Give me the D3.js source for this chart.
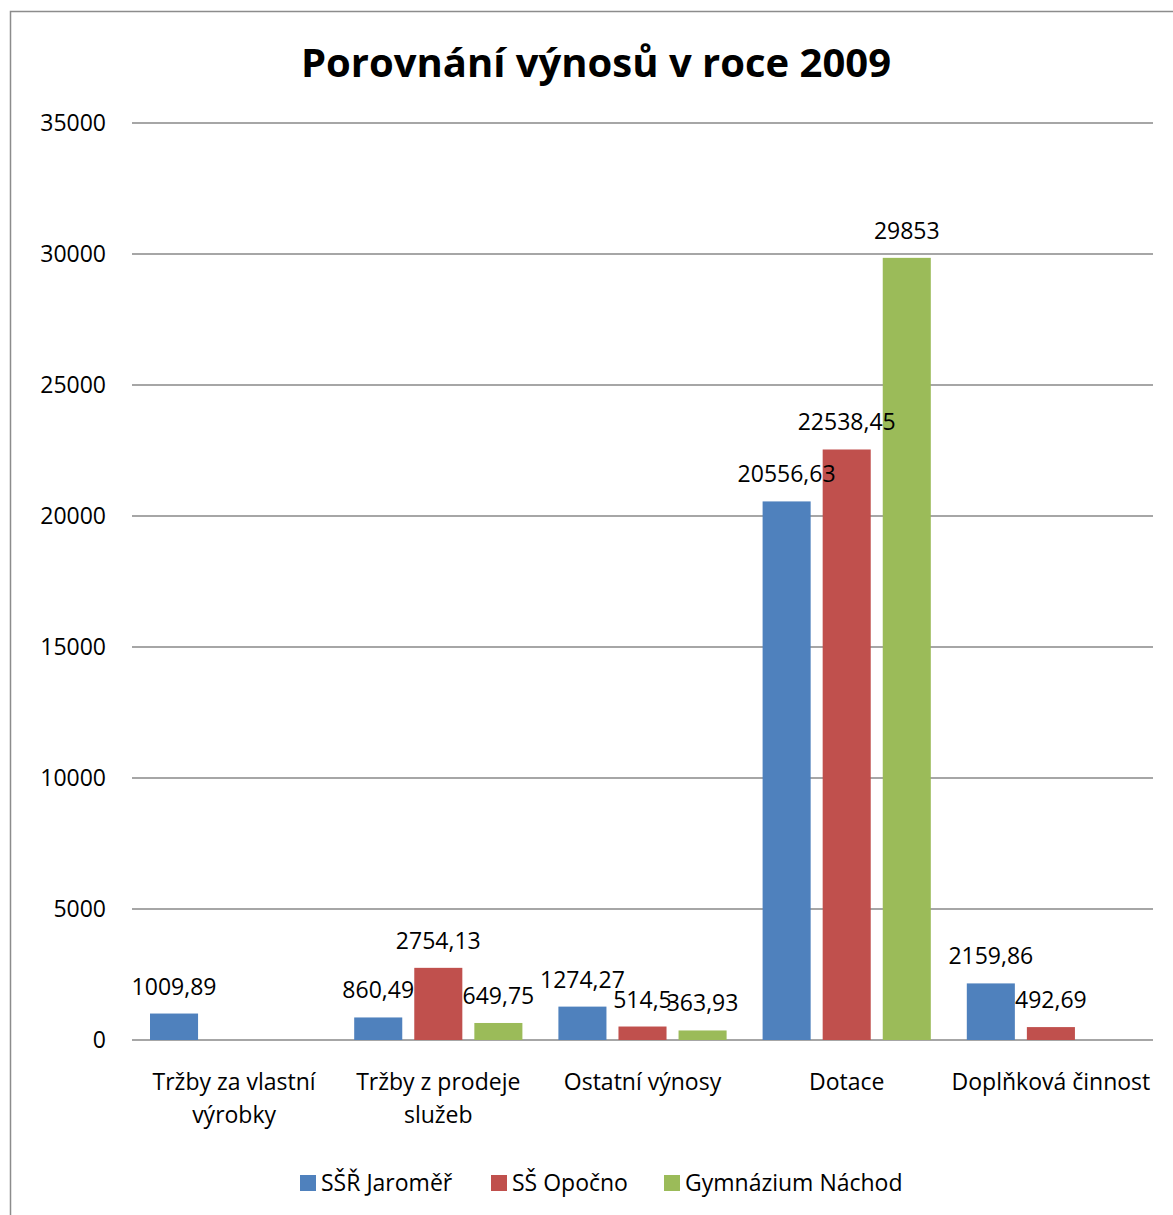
<!DOCTYPE html>
<html>
<head>
<meta charset="utf-8">
<script src="https://cdn.jsdelivr.net/npm/d3@7"></script>
<style>
  body { margin: 0; background: #fff; }
  text { font-family: "Open Sans", sans-serif; fill: #000; }
</style>
</head>
<body>
<div id="chart"></div>
<script>
var width = 1173;
var height = 1215;

var categories = [
  ['Tržby za vlastní', 'výrobky'],
  ['Tržby z prodeje', 'služeb'],
  ['Ostatní výnosy'],
  ['Dotace'],
  ['Doplňková činnost']
];
var seriesNames = ['SŠŘ Jaroměř', 'SŠ Opočno', 'Gymnázium Náchod'];
var colors = ['#4F81BD', '#C0504D', '#9BBB59'];
var jaromer = [1009.89, 860.49, 1274.27, 20556.63, 2159.86];
var opocno = [null, 2754.13, 514.5, 22538.45, 492.69];
var nachod = [null, 649.75, 363.93, 29853, null];
var yTicks = [0, 5000, 10000, 15000, 20000, 25000, 30000, 35000];

var series = [jaromer, opocno, nachod];
var plotLeft = 132, plotRight = 1153, plotTop = 123, plotBottom = 1040;

var svg = d3.select('#chart')
  .append('svg')
  .attr('width', width)
  .attr('height', height);

// chart border (runs off the right and bottom edges)
svg.append('rect')
  .attr('x', 10.5)
  .attr('y', 11.5)
  .attr('width', width + 20)
  .attr('height', height + 20)
  .style('fill', 'none')
  .style('stroke', '#8c8c8c')
  .style('stroke-width', 1.5);

var x0 = d3.scaleBand()
  .domain(d3.range(categories.length))
  .range([plotLeft, plotRight]);

var x1 = d3.scaleBand()
  .domain(d3.range(series.length))
  .range([18, x0.bandwidth() - 18])
  .paddingInner(0.2);

var y = d3.scaleLinear()
  .domain([0, 35000])
  .range([plotBottom, plotTop]);

svg.append('text')
  .attr('x', 596)
  .attr('y', 77)
  .attr('text-anchor', 'middle')
  .style('font-size', '40px')
  .style('font-weight', 'bold')
  .text('Porovnání výnosů v roce 2009');

// gridlines
svg.selectAll('.grid')
  .data(yTicks)
  .enter()
  .append('line')
  .attr('x1', plotLeft)
  .attr('x2', plotRight)
  .attr('y1', function(d) { return y(d); })
  .attr('y2', function(d) { return y(d); })
  .style('stroke', '#888')
  .style('stroke-width', 1.5);

svg.selectAll('.ytick')
  .data(yTicks)
  .enter()
  .append('text')
  .attr('x', 106)
  .attr('y', function(d) { return y(d) + 8; })
  .attr('text-anchor', 'end')
  .style('font-size', '23px')
  .text(function(d) { return d; });

var fmt = function(v) { return String(v).replace('.', ','); };

var barData = function(vals) {
  return vals.map(function(v, i) { return { i: i, v: v }; })
    .filter(function(d) { return d.v != null; });
};

series.forEach(function(vals, s) {
  svg.selectAll('.bar' + s)
    .data(barData(vals))
    .enter()
    .append('rect')
    .attr('x', function(d) { return x0(d.i) + x1(s); })
    .attr('y', function(d) { return y(d.v); })
    .attr('width', x1.bandwidth())
    .attr('height', function(d) { return plotBottom - y(d.v); })
    .style('fill', colors[s]);
});

// data labels go on top of all bars
series.forEach(function(vals, s) {
  svg.selectAll('.label' + s)
    .data(barData(vals))
    .enter()
    .append('text')
    .attr('x', function(d) { return x0(d.i) + x1(s) + x1.bandwidth() / 2; })
    .attr('y', function(d) { return y(d.v) - 19; })
    .attr('text-anchor', 'middle')
    .style('font-size', '23px')
    .text(function(d) { return fmt(d.v); });
});

// category labels
categories.forEach(function(lines, i) {
  var t = svg.append('text')
    .attr('text-anchor', 'middle')
    .style('font-size', '23px');
  lines.forEach(function(line, k) {
    t.append('tspan')
      .attr('x', x0(i) + x0.bandwidth() / 2)
      .attr('y', 1090 + k * 33)
      .text(line);
  });
});

// legend
var legendX = [300, 491, 664];
seriesNames.forEach(function(name, s) {
  svg.append('rect')
    .attr('x', legendX[s])
    .attr('y', 1175)
    .attr('width', 16)
    .attr('height', 16)
    .style('fill', colors[s]);
  svg.append('text')
    .attr('x', legendX[s] + 21)
    .attr('y', 1191)
    .style('font-size', '23px')
    .text(name);
});
</script>
</body>
</html>
